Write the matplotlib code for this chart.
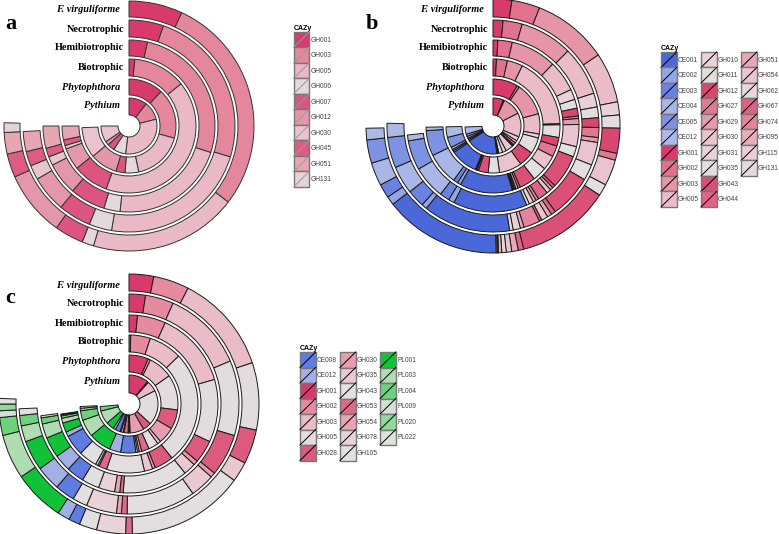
import matplotlib
matplotlib.use('Agg')
import matplotlib.pyplot as plt
from matplotlib.legend_handler import HandlerBase
from matplotlib.lines import Line2D
from matplotlib.patches import Patch, Rectangle
import numpy as np

W, H = 779, 534

# Кольца идут снаружи внутрь. Числа - конец каждой категории при накоплении,
# в градусах по часовой стрелке от 12 часов
ring_names = ['F. virguliforme', 'Necrotrophic', 'Hemibiotrophic', 'Biotrophic', 'Phytophthora', 'Pythium']

cats_a = ['GH001', 'GH003', 'GH005', 'GH006', 'GH007', 'GH012', 'GH030', 'GH045', 'GH051', 'GH131']
colors_a = ['#d93a6c', '#e5879c', '#e9b9c5', '#e4d8dc', '#dc5580', '#e497ab', '#e9c4ce', '#de5c84', '#e8a6b5', '#e6d2d9']
a_fv = [25, 127.5, 196.5, 202, 215.5, 246, 246, 257, 267, 271.5]
a_necro = [19, 107, 189.5, 202, 220, 240, 248, 256, 267, 267]
a_hemi = [12.5, 108, 186, 197, 221, 243, 249, 255, 270, 270]
a_bio = [5, 51, 200, 200, 231, 250, 253, 258, 270, 270]
a_phyt = [43, 105, 168, 185, 196, 230, 268, 268, 268, 268]
a_pyth = [38, 76, 187, 213, 228, 236, 270, 270, 270, 270]

cats_b = ['GH001', 'GH002', 'GH003', 'GH005', 'GH010', 'GH011', 'GH012', 'GH027', 'GH029', 'GH030',
          'GH031', 'GH035', 'GH043', 'GH044', 'GH051', 'GH054', 'GH062', 'GH067', 'GH074', 'GH095',
          'GH115', 'GH131', 'CE001', 'CE002', 'CE003', 'CE004', 'CE005', 'CE012']
colors_b = ['#d93a6c', '#e2708f', '#e695a9', '#e9bcc8', '#ead0d7', '#e4dcde', '#d9476f', '#e07892', '#e59aad', '#e9c3cd',
            '#e8d2d9', '#e3dfe0', '#db5077', '#de6585', '#e8a7b7', '#e9c5cf', '#e6d9dc', '#dc6385', '#e4859d', '#e8aebc',
            '#e9d0d7', '#e5dadd', '#4a68d8', '#93a5e4', '#6a83e0', '#a9b6e6', '#7d92e2', '#aeb9e6']
b_fv = [8.6, 21.5, 56, 79, 85, 91, 102.5, 105.7, 105.7, 117.6, 117.6, 123, 166, 168.5, 171.5, 174, 176, 176, 176, 177.5, 178, 178.6,
        232, 236, 242.4, 253, 263.7, 269]
b_necro = [5.5, 16, 45, 72, 79.6, 85.5, 90.8, 96.3, 99, 111.6, 111.6, 120.4, 144, 146.5, 149, 152.6, 152.6, 154, 163, 165, 169, 171,
           219, 222, 231.7, 247, 263.8, 271.5]
b_hemi = [3.3, 13, 44, 65, 72, 78, 83.3, 85, 89, 104, 104, 111, 134, 136, 138, 141, 141, 148, 150, 152, 155, 157,
          207, 211, 217.6, 240, 260, 264]
b_bio = [3, 12.5, 26, 88, 89, 100, 107.5, 117, 117, 129.7, 129.7, 142, 156, 158, 160, 161, 162, 162, 162.5, 163, 163.2, 163.3,
         209, 212, 216, 244, 266, 269]
b_phyt = [31, 34, 75, 100, 105, 125, 144, 144, 144, 172, 172, 186, 198, 200, 200.5, 201, 201, 201.5, 201.5, 202, 202, 202,
          236, 238, 240, 243, 256, 269]
b_pyth = [22, 24, 63, 113, 122, 127, 133, 135, 136, 152, 160, 168, 170, 171, 171, 171, 171.5, 171.5, 171.5, 171.5, 172, 172,
          238, 241, 244, 248, 253, 268]

cats_c = ['GH001', 'GH002', 'GH003', 'GH005', 'GH028', 'GH030', 'GH035', 'GH043', 'GH053', 'GH054', 'GH078', 'GH105',
          'CE008', 'CE012', 'PL001', 'PL003', 'PL004', 'PL009', 'PL020', 'PL022']
colors_c = ['#d93a6c', '#e58a9f', '#e9bcc8', '#e3dcde', '#dc5a7e', '#e79db0', '#e9c8d1', '#e3dedf', '#de6a8a', '#e8a4b5', '#e9d2d8', '#e1dfdf',
            '#5f7ce0', '#a3b0e6', '#10c238', '#b0dcb3', '#6dd27c', '#d0e0d2', '#90d99a', '#dde2dd']
c_fv = [11, 27, 71.5, 101.6, 117, 117, 126, 178.5, 181.5, 181.5, 194.5, 202.4, 207.5, 213, 236, 256, 264, 267, 270, 272.5]
c_necro = [8.7, 23.6, 67, 106.7, 129, 131.6, 144.5, 181, 184, 186.6, 202.7, 210.5, 221, 234, 250, 258.5, 264, 264, 264, 267.5]
c_hemi = [5.5, 24, 74, 115, 130, 133, 141, 183.7, 186, 189.4, 200, 211.5, 223, 234, 247.6, 257, 261, 261, 261, 262.4]
c_bio = [1.5, 18, 46, 141.6, 157.6, 160, 167, 199, 205.7, 207, 209, 224.5, 242, 246, 254, 258, 260, 261, 261, 261.6]
c_phyt = [23, 26, 55, 97, 120, 140, 144, 156, 165, 168, 170, 172, 190, 203.4, 230, 250.6, 262, 262, 265, 267]
c_pyth = [40, 42, 63, 133, 150, 178, 180, 182, 190, 192, 196, 198, 208, 213, 229, 256, 265, 265, 265, 265]


class KeyHandler(HandlerBase):
    # Квадрат легенды с диагональю, как в ggplot
    def __init__(self, line_color):
        super().__init__()
        self.line_color = line_color

    def create_artists(self, legend, orig_handle, xdescent, ydescent, width, height, fontsize, trans):
        x0, y0 = -xdescent, -ydescent
        box = Rectangle((x0, y0), width, height, facecolor=orig_handle.get_facecolor(),
                        edgecolor='#777777', linewidth=1.0, transform=trans)
        if not orig_handle.get_visible():
            box.set_visible(False)
            return [box]
        diag = Line2D([x0, x0 + width], [y0, y0 + height], color=self.line_color, linewidth=0.7, transform=trans)
        return [box, diag]


def draw_panel(cx, cy, radii, colors, rings, edge):
    R = radii[0] + 2
    ax = fig.add_axes([(cx - R) / W, 1 - (cy + R) / H, 2 * R / W, 2 * R / H])
    inner = radii[1:] + [11]
    for i, ends in enumerate(rings):
        spans = np.diff(np.concatenate([[0], ends]))
        keep = spans > 0
        bottom = inner[i] + (3 if i < 5 else 0)
        ax.pie(spans[keep] / 360, colors=np.array(colors)[keep], radius=radii[i], startangle=90, counterclock=False,
               normalize=False, wedgeprops={'width': radii[i] - bottom, 'edgecolor': edge, 'linewidth': 0.7})
    ax.set_xlim(-R, R)
    ax.set_ylim(-R, R)
    ax.axis('off')
    return ax


def draw_labels(cx, label_y, letter, letter_pos):
    for name, y in zip(ring_names, label_y):
        italic = name in ('F. virguliforme', 'Phytophthora', 'Pythium')
        label_x = cx - (9 if italic else 5)
        fig.text(label_x / W, 1 - y / H, name, ha='right', va='center', family='Liberation Serif',
                 weight='bold', style='italic' if italic else 'normal', fontsize=7.4, color='black')
    fig.text(letter_pos[0] / W, 1 - letter_pos[1] / H, letter, ha='left', va='baseline', family='Liberation Serif',
             weight='bold', fontsize=16, color='black')


def draw_legend(x, y, cats, colors, line_color, ncols, nblank):
    # порядок в легенде алфавитный, на кольцах - CE и PL идут после GH
    order = np.argsort(cats)
    handles = [Patch(facecolor=colors[i]) for i in order] + [Patch(visible=False) for _ in range(nblank)]
    labels = [cats[i] for i in order] + [''] * nblank
    fig.legend(handles, labels, loc='upper left', bbox_to_anchor=(x / W, 1 - y / H), ncols=ncols, frameon=False,
               title='CAZy', alignment='left', title_fontproperties={'weight': 'bold', 'size': 5, 'family': 'Liberation Sans'},
               prop={'family': 'Liberation Sans', 'size': 4.8}, labelcolor='#444444', borderpad=0, borderaxespad=0,
               labelspacing=0, handlelength=2.35, handleheight=3.2, handletextpad=0.2, columnspacing=0.3,
               handler_map={Patch: KeyHandler(line_color)})


fig = plt.figure(figsize=(W / 100, H / 100), dpi=100)

radii_a = [125, 106, 86, 67, 47, 28]
radii_b = [127, 106, 86, 67, 47, 28]
radii_c = [130, 110, 89, 69, 49, 29]
label_y_ab = [10, 29, 48, 67, 87, 106]
label_y_c = [286, 304, 323, 342, 362, 381]

draw_panel(129, 126, radii_a, colors_a, [a_fv, a_necro, a_hemi, a_bio, a_phyt, a_pyth], '#333333')
draw_panel(493, 126, radii_b, colors_b, [b_fv, b_necro, b_hemi, b_bio, b_phyt, b_pyth], '#1a1a1a')
draw_panel(129, 404, radii_c, colors_c, [c_fv, c_necro, c_hemi, c_bio, c_phyt, c_pyth], '#1a1a1a')

draw_labels(129, label_y_ab, 'a', (5, 29))
draw_labels(493, label_y_ab, 'b', (366, 29))
draw_labels(129, label_y_c, 'c', (5, 303))

draw_legend(293.5, 25, cats_a, colors_a, '#999999', 1, 0)
draw_legend(661, 45, cats_b, colors_b, 'black', 3, 2)
draw_legend(300, 345, cats_c, colors_c, 'black', 3, 1)

fig.savefig('out.png', dpi=100)
